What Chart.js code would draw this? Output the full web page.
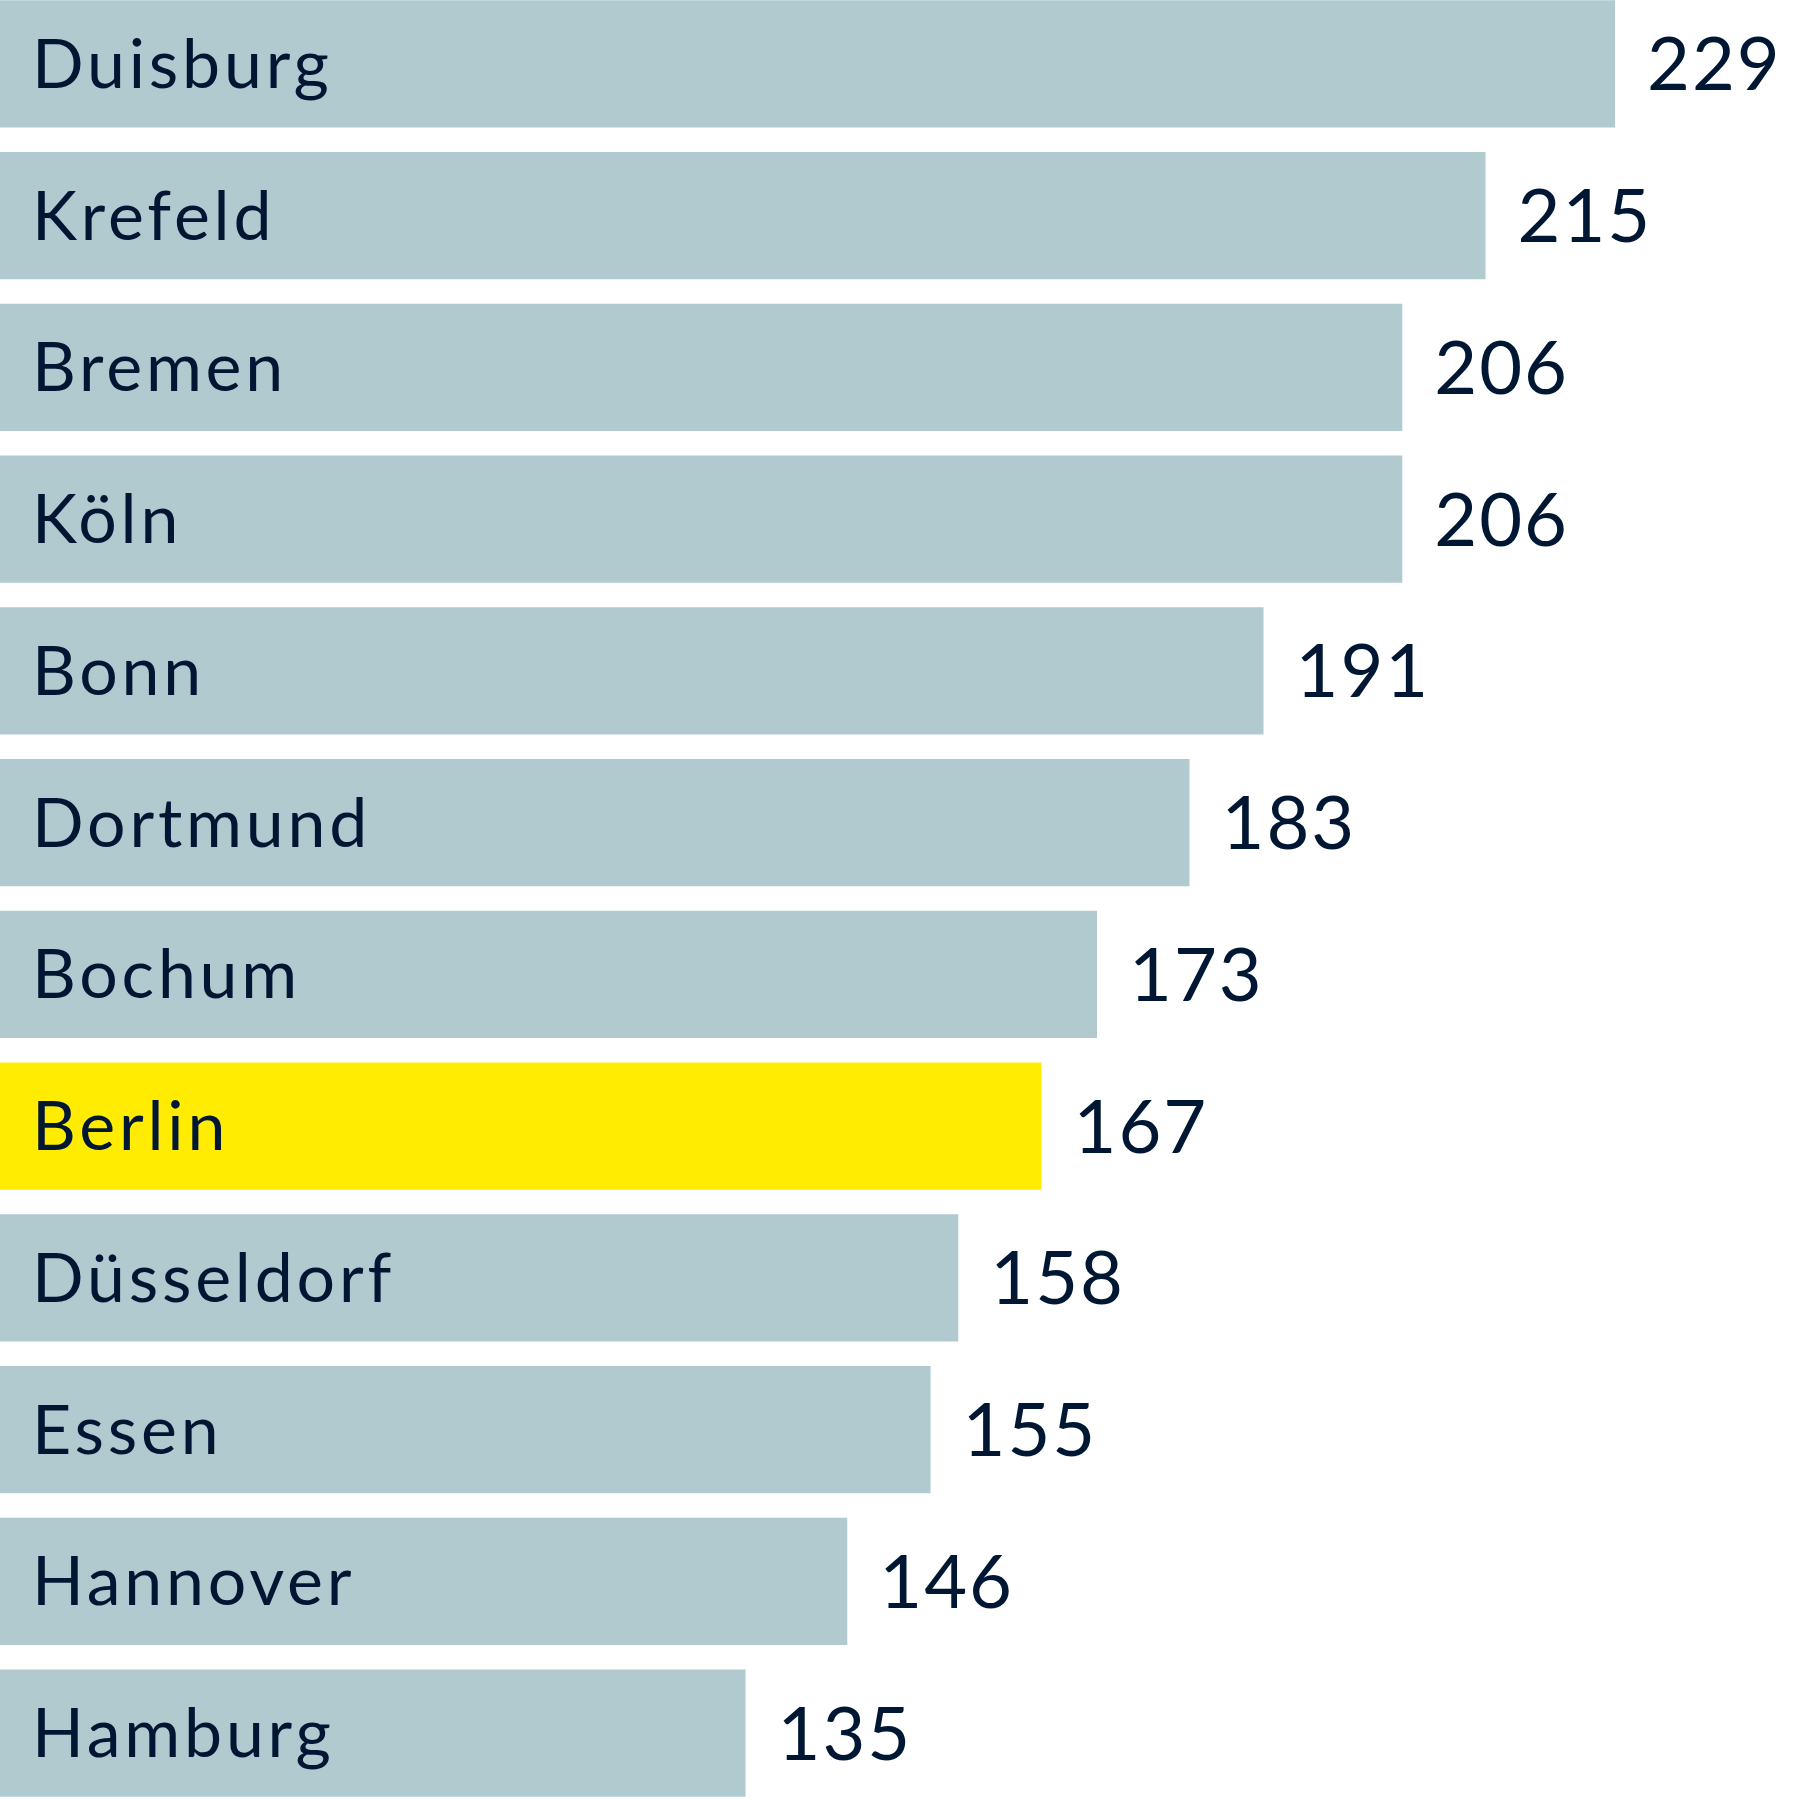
<!DOCTYPE html>
<html>
<head>
<meta charset="utf-8">
<script src="https://cdn.jsdelivr.net/npm/chart.js@4.4.1/dist/chart.umd.min.js"></script>
<style>
  html, body { margin: 0; padding: 0; background: #fff; overflow: hidden; }
  #wrap { position: absolute; left: 0; top: -12px; width: 1800px; height: 1821px; }
</style>
</head>
<body>
<div id="wrap"><canvas id="chart"></canvas></div>
<script>
const cities = ['Duisburg', 'Krefeld', 'Bremen', 'Köln', 'Bonn', 'Dortmund', 'Bochum',
  'Berlin', 'Düsseldorf', 'Essen', 'Hannover', 'Hamburg'];
const values = [229, 215, 206, 206, 191, 183, 173, 167, 158, 155, 146, 135];
const highlight = 'Berlin';

const barColor = '#b1cad0';
const highlightColor = '#ffec00';
const textColor = '#001733';

// names inside the bars, values just past the bar end
const barLabels = {
  id: 'barLabels',
  afterDatasetsDraw(chart) {
    const ctx = chart.ctx;
    const meta = chart.getDatasetMeta(0);
    ctx.save();
    ctx.fillStyle = textColor;
    ctx.textAlign = 'left';
    ctx.textBaseline = 'alphabetic';
    meta.data.forEach((bar, i) => {
      ctx.font = '68px Lato';
      ctx.letterSpacing = '3.8px';
      ctx.fillText(cities[i], 32, bar.y + 24);
      ctx.font = '74px Lato';
      ctx.letterSpacing = '2px';
      ctx.fillText(String(values[i]), bar.x + 32, bar.y + 26.5);
    });
    ctx.restore();
  }
};

new Chart(document.getElementById('chart'), {
  type: 'bar',
  data: {
    labels: cities,
    datasets: [{
      data: values,
      backgroundColor: cities.map(c => c === highlight ? highlightColor : barColor),
      borderWidth: 0,
      barPercentage: 0.837,
      categoryPercentage: 1
    }]
  },
  options: {
    indexAxis: 'y',
    responsive: true,
    maintainAspectRatio: false,
    animation: false,
    layout: { padding: 0 },
    plugins: {
      legend: { display: false },
      tooltip: { enabled: false }
    },
    scales: {
      x: { display: false, min: 54.4, max: 249 },
      y: { display: false }
    }
  },
  plugins: [barLabels]
});
</script>
</body>
</html>
